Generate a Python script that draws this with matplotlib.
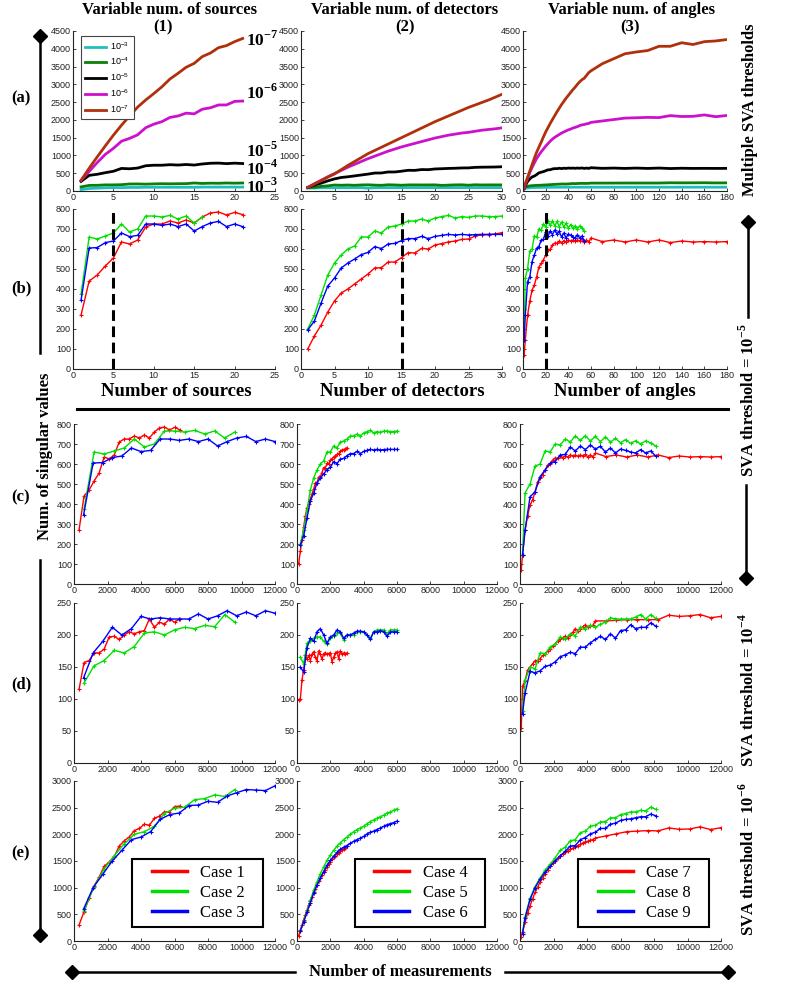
import numpy as np
import matplotlib
matplotlib.use('Agg')
import matplotlib.pyplot as plt
from matplotlib.lines import Line2D
from matplotlib.patches import Rectangle

plt.rcParams['font.family'] = 'Liberation Sans'
plt.rcParams['mathtext.fontset'] = 'custom'
plt.rcParams['mathtext.rm'] = 'Liberation Serif'
plt.rcParams['mathtext.bf'] = 'Liberation Serif:bold'
plt.rcParams['mathtext.sf'] = 'Liberation Sans'

# ---------------- data ----------------
# x values (number of sources / detectors / angles)
src1 = list(range(1, 22))
src2 = list(range(1, 17))
src3 = list(range(1, 22))
det = list(range(1, 31))
angles7 = [1, 2, 4, 6, 8, 10, 12, 14, 16, 18, 20, 22, 24, 26, 28, 30, 32, 34, 36, 38, 40,
           42, 44, 46, 48, 50, 52, 54, 56, 58, 60,
           70, 80, 90, 100, 110, 120, 130, 140, 150, 160, 170, 180]
angles89 = [1, 2, 4, 6, 8, 10, 12, 14, 16, 18, 20, 22, 24, 26, 28, 30, 32, 34, 36, 38, 40,
            42, 44, 46, 48, 50, 52, 54]

# measurements per source / detector / angle for each case
meas_per = {1: 300, 2: 600, 3: 12000 / 21, 4: 100, 5: 200, 6: 200, 8: 150, 9: 150}
meas7 = [75, 150, 300, 450, 600, 750, 900, 1050, 1200, 1350, 1500, 1650, 1800, 1950, 2100,
         2250, 2400, 2550, 2700, 2850, 3000, 3150, 3300, 3450, 3600, 3750, 3900, 4050, 4200,
         4350, 4500, 5125, 5750, 6375, 7000, 7625, 8250, 8875, 9500, 10125, 10750, 11375, 12000]

# row (a) extra thresholds (case 1 / 4 / 7)
a1_e7 = [300, 640, 960, 1270, 1570, 1850, 2110, 2360, 2560, 2740, 2930, 3150, 3310, 3480,
         3590, 3780, 3880, 4030, 4090, 4200, 4290]
a1_e3 = [40, 70, 80, 90, 95, 95, 100, 100, 105, 105, 105, 105, 105, 105, 105, 110, 110, 110,
         110, 110, 110]
a2_e7 = [100, 200, 290, 390, 480, 600, 720, 830, 940, 1050, 1140, 1230, 1320, 1410, 1500,
         1590, 1680, 1770, 1860, 1950, 2030, 2110, 2190, 2270, 2350, 2420, 2490, 2560, 2640, 2720]
a2_e3 = [80, 85, 88, 90, 90, 92, 92, 93, 93, 80, 92, 93, 93, 93, 94, 94, 94, 94, 95, 95, 95,
         95, 95, 95, 95, 95, 95, 95, 95, 95]
a3_e7 = [120, 200, 380, 560, 740, 920, 1090, 1230, 1370, 1520, 1660, 1780, 1900, 2010, 2120,
         2230, 2330, 2430, 2520, 2610, 2690, 2770, 2850, 2920, 3000, 3070, 3130, 3170, 3250,
         3330, 3380, 3580, 3720, 3860, 3910, 3950, 4070, 4070, 4170, 4120, 4200, 4220, 4260]
a3_e3 = [60, 75, 85, 90, 95, 98, 100, 100, 102, 103, 103, 104, 104, 105, 105, 105, 105, 105,
         106, 106, 106, 106, 106, 106, 106, 106, 107, 107, 107, 107, 107, 107, 107, 107, 107,
         107, 107, 107, 107, 107, 107, 107, 107]

# SVA threshold 1e-5 (rows b and c)
t5_c1 = [270, 440, 470, 515, 555, 635, 625, 645, 710, 725, 725, 740, 730, 745, 730, 760, 780,
         785, 770, 783, 772]
t5_c2 = [375, 660, 650, 665, 680, 725, 685, 700, 765, 765, 760, 768, 750, 765, 730, 760]
t5_c3 = [345, 605, 607, 632, 640, 680, 662, 668, 725, 725, 718, 725, 712, 725, 690, 712, 730,
         738, 712, 725, 712]
t5_c4 = [100, 165, 220, 285, 340, 380, 400, 425, 450, 475, 505, 507, 535, 535, 557, 582, 580,
         603, 600, 620, 627, 635, 640, 648, 650, 665, 670, 672, 675, 682]
t5_c5 = [200, 270, 370, 470, 530, 570, 600, 615, 660, 660, 690, 680, 710, 715, 725, 740, 740,
         750, 740, 755, 762, 768, 755, 762, 758, 765, 765, 762, 762, 765]
t5_c6 = [195, 240, 330, 415, 455, 505, 530, 550, 572, 583, 612, 602, 625, 628, 642, 652, 652,
         663, 652, 663, 668, 673, 670, 673, 670, 672, 673, 673, 673, 673]
t5_c7 = [72, 143, 268, 340, 395, 420, 460, 510, 528, 545, 570, 595, 598, 620, 630, 628, 640,
         630, 642, 635, 645, 640, 645, 638, 645, 640, 648, 635, 645, 635, 655,
         637, 645, 635, 645, 635, 645, 632, 640, 635, 637, 635, 637]
t5_c8 = [145, 455, 500, 590, 600, 665, 660, 700, 695, 725, 710, 740, 718, 742, 715, 738, 712,
         735, 710, 728, 706, 722, 703, 716, 700, 716, 705, 690]
t5_c9 = [143, 268, 436, 461, 537, 570, 604, 612, 645, 648, 685, 665, 690, 672, 695, 675, 688,
         660, 680, 655, 675, 668, 660, 655, 672, 655, 665, 640]

# SVA threshold 1e-4 (row d)
t4_c1 = [115, 157, 160, 172, 172, 178, 197, 198, 193, 200, 205, 202, 205, 207, 225, 212, 220,
         217, 225, 220, 225]
t4_c2 = [125, 152, 160, 176, 172, 182, 203, 205, 200, 208, 212, 210, 215, 213, 232, 220]
t4_c3 = [133, 172, 190, 212, 200, 210, 229, 225, 227, 225, 225, 225, 233, 225, 230, 238, 230,
         236, 230, 238, 234]
t4_c4 = [99, 100, 130, 145, 168, 162, 168, 160, 170, 174, 165, 160, 175, 170, 162, 171, 172,
         170, 171, 172, 158, 165, 172, 174, 163, 175, 170, 172, 171, 172]
t4_c5 = [165, 155, 187, 190, 195, 197, 197, 190, 186, 195, 198, 203, 203, 192, 200, 200, 200,
         205, 205, 205, 200, 195, 205, 208, 208, 208, 202, 208, 208, 208]
t4_c6 = [150, 142, 180, 195, 190, 205, 210, 200, 187, 197, 200, 208, 205, 195, 200, 200, 203,
         206, 206, 205, 200, 193, 205, 205, 207, 205, 198, 205, 205, 205]
t4_c7 = [54, 120, 128, 145, 150, 155, 160, 160, 163, 168, 170, 175, 178, 183, 186, 190, 193,
         196, 198, 195, 200, 204, 210, 207, 210, 213, 216, 212, 214, 215, 222,
         222, 223, 224, 224, 224, 224, 231, 229, 230, 232, 227, 229]
t4_c8 = [81, 129, 150, 147, 172, 171, 181, 186, 197, 194, 202, 199, 212, 210, 215, 212, 217,
         220, 227, 225, 225, 225, 225, 228, 232, 225, 232, 226]
t4_c9 = [77, 109, 143, 141, 144, 151, 153, 158, 166, 169, 173, 171, 181, 181, 188, 193, 198,
         193, 202, 195, 207, 208, 216, 210, 212, 212, 219, 214]

# SVA threshold 1e-6 (row e)
t6_c1 = [300, 550, 800, 1030, 1200, 1400, 1480, 1580, 1780, 1880, 1950, 2070, 2110, 2190,
         2170, 2300, 2340, 2420, 2420, 2520, 2530]
t6_c2 = [570, 1020, 1350, 1600, 1820, 2000, 2050, 2150, 2390, 2490, 2510, 2650, 2670, 2740,
         2710, 2840]
t6_c3 = [600, 1000, 1250, 1500, 1700, 1900, 1950, 2050, 2280, 2370, 2400, 2540, 2550, 2620,
         2600, 2720, 2780, 2840, 2830, 2820, 2910]
t6_c4 = [100, 200, 300, 400, 490, 580, 670, 750, 830, 910, 980, 1050, 1120, 1180, 1240, 1290,
         1340, 1390, 1440, 1490, 1530, 1570, 1600, 1630, 1650, 1680, 1710, 1730, 1750, 1775]
t6_c5 = [190, 370, 560, 760, 950, 1110, 1260, 1390, 1510, 1610, 1700, 1780, 1840, 1900, 1950,
         2000, 2050, 2090, 2120, 2150, 2200, 2240, 2270, 2300, 2330, 2360, 2400, 2420, 2450, 2480]
t6_c6 = [190, 360, 540, 720, 900, 1050, 1180, 1300, 1420, 1510, 1590, 1660, 1720, 1760, 1790,
         1830, 1870, 1900, 1930, 1960, 2010, 2040, 2060, 2090, 2120, 2150, 2180, 2200, 2220, 2250]
t6_c7 = [80, 170, 350, 520, 660, 790, 910, 1010, 1100, 1180, 1260, 1330, 1400, 1460, 1510,
         1550, 1590, 1630, 1660, 1690, 1720, 1740, 1770, 1790, 1810, 1840, 1860, 1870, 1890,
         1900, 1930, 1970, 2010, 2050, 2060, 2070, 2065, 2120, 2095, 2100, 2140, 2090, 2125]
t6_c8 = [130, 450, 800, 1020, 1180, 1330, 1440, 1560, 1700, 1760, 1880, 1900, 2030, 2060,
         2150, 2170, 2230, 2240, 2310, 2310, 2370, 2390, 2420, 2420, 2450, 2440, 2510, 2470]
t6_c9 = [130, 430, 780, 1000, 1160, 1290, 1400, 1500, 1600, 1680, 1780, 1790, 1900, 1940,
         2010, 2040, 2110, 2110, 2190, 2210, 2260, 2280, 2290, 2310, 2330, 2330, 2380, 2350]

thr_labels = [r'$\mathsf{10^{-3}}$', r'$\mathsf{10^{-4}}$', r'$\mathsf{10^{-5}}$',
              r'$\mathsf{10^{-6}}$', r'$\mathsf{10^{-7}}$']
thr_colors = ['#1fbfbf', '#0a800a', '#000000', '#cc11cc', '#b0300c']
case_colors = ['#ff0000', '#00e000', '#0000ff']

# ---------------- layout ----------------
W, H = 789, 996
fig = plt.figure(figsize=(W / 100, H / 100), dpi=100)
SERIF = 'Liberation Serif'


def add_ax(l, t, r, b):
    return fig.add_axes([l / W, 1 - b / H, (r - l) / W, (b - t) / H])


def style(ax, xlim, xticks, ylim, yticks):
    ax.set_xlim(xlim)
    ax.set_ylim(ylim)
    ax.set_xticks(xticks)
    ax.set_yticks(yticks)
    for s in ('top', 'right'):
        ax.spines[s].set_visible(False)
    for s in ('left', 'bottom'):
        ax.spines[s].set_linewidth(0.8)
        ax.spines[s].set_color('#222222')
    ax.tick_params(direction='in', length=2.5, width=0.6, labelsize=6.5, pad=1.5,
                   colors='#222222')


def ftext(x, y, s, size=12, **kw):
    fig.text(x / W, 1 - y / H, s, fontsize=size, family=SERIF, fontweight='bold',
             ha='center', va='center', **kw)


def fline(xs, ys, lw=1.8):
    fig.add_artist(Line2D([x / W for x in xs], [1 - y / H for y in ys],
                          transform=fig.transFigure, color='black', lw=lw))


def fdiamond(x, y):
    fig.add_artist(Line2D([x / W], [1 - y / H], transform=fig.transFigure, color='black',
                          marker='D', ms=7.5, lw=0))


rows = {'a': (31, 191), 'b': (209, 369), 'c': (424, 584), 'd': (603, 763), 'e': (781, 941)}
cols_ab = [(73, 275), (301, 502), (523, 727)]
cols_ce = [(74, 275), (297, 497), (520, 721)]

# row (a): multiple thresholds
a_x = [src1, det, angles7]
a_series = [[a1_e3, t4_c1, t5_c1, t6_c1, a1_e7],
            [a2_e3, t4_c4, t5_c4, t6_c4, a2_e7],
            [a3_e3, t4_c7, t5_c7, t6_c7, a3_e7]]
xlims = [(0, 25), (0, 30), (0, 180)]
xticks = [range(0, 26, 5), range(0, 31, 5), range(0, 181, 20)]
for j in range(3):
    ax = add_ax(cols_ab[j][0], rows['a'][0], cols_ab[j][1], rows['a'][1])
    style(ax, xlims[j], xticks[j], (0, 4500), range(0, 4501, 500))
    for k in range(5):
        ax.plot(a_x[j], a_series[j][k], color=thr_colors[k], lw=2, label=thr_labels[k])
    if j == 0:
        leg = ax.legend(loc='upper left', bbox_to_anchor=(0.015, 1.0), fontsize=6.5,
                        handlelength=2.3, handletextpad=0.5, labelspacing=0.45,
                        borderpad=0.5, fancybox=False, framealpha=1)
        leg.get_frame().set_edgecolor('#444444')
        leg.get_frame().set_linewidth(0.8)
        ann = [(4250, -7), (2750, -6), (1125, -5), (620, -4), (115, -3)]
        for yv, e in ann:
            ax.text(21.4, yv, r'10$^{\mathbf{%d}}$' % e, fontsize=12.5, family=SERIF,
                    fontweight='bold', va='center', ha='left')

# row (b): threshold 1e-5 vs number of sources/detectors/angles
b_data = [[(src1, t5_c1), (src2, t5_c2), (src3, t5_c3)],
          [(det, t5_c4), (det, t5_c5), (det, t5_c6)],
          [(angles7, t5_c7), (angles89, t5_c8), (angles89, t5_c9)]]
vlines = [5, 15, 20]
for j in range(3):
    ax = add_ax(cols_ab[j][0], rows['b'][0], cols_ab[j][1], rows['b'][1])
    style(ax, xlims[j], xticks[j], (0, 800), range(0, 801, 100))
    for k in range(3):
        xs, ys = b_data[j][k]
        ax.plot(xs, ys, color=case_colors[k], lw=1, marker='+', ms=3.5, mew=0.8)
    ax.plot([vlines[j], vlines[j]], [0, 790], color='black', lw=2.2,
            linestyle=(0, (3.5, 1.8)))

# rows (c)-(e): versus number of measurements
m_x = [[[n * meas_per[1] for n in src1], [n * meas_per[2] for n in src2],
        [n * meas_per[3] for n in src3]],
       [[n * meas_per[4] for n in det], [n * meas_per[5] for n in det],
        [n * meas_per[6] for n in det]],
       [meas7, [n * meas_per[8] for n in angles89], [n * meas_per[9] for n in angles89]]]
row_vals = {'c': [[t5_c1, t5_c2, t5_c3], [t5_c4, t5_c5, t5_c6], [t5_c7, t5_c8, t5_c9]],
            'd': [[t4_c1, t4_c2, t4_c3], [t4_c4, t4_c5, t4_c6], [t4_c7, t4_c8, t4_c9]],
            'e': [[t6_c1, t6_c2, t6_c3], [t6_c4, t6_c5, t6_c6], [t6_c7, t6_c8, t6_c9]]}
row_y = {'c': ((0, 800), range(0, 801, 100)),
         'd': ((0, 250), range(0, 251, 50)),
         'e': ((0, 3000), range(0, 3001, 500))}
for r in 'cde':
    for j in range(3):
        ax = add_ax(cols_ce[j][0], rows[r][0], cols_ce[j][1], rows[r][1])
        style(ax, (0, 12000), range(0, 12001, 2000), row_y[r][0], row_y[r][1])
        for k in range(3):
            ax.plot(m_x[j][k], row_vals[r][j][k], color=case_colors[k], lw=1,
                    marker='+', ms=3.5, mew=0.8, label='Case %d' % (3 * j + k + 1))
        if r == 'e':
            ax.add_patch(Rectangle((0.29, 0.0875), 0.652, 0.425, transform=ax.transAxes,
                                   facecolor='white', edgecolor='black', lw=1.5,
                                   zorder=5))
            handles = [Line2D([], [], color=c, lw=2.5) for c in case_colors]
            leg = ax.legend(handles, ['Case %d' % (3 * j + k + 1) for k in range(3)],
                            loc='center', bbox_to_anchor=(0.62, 0.30), frameon=False,
                            prop={'family': SERIF, 'size': 12}, handlelength=2.1,
                            handletextpad=0.8, labelspacing=0.25, borderpad=0.2)
            leg.set_zorder(6)

# ---------------- text and decorations ----------------
ftext(170, 10, 'Variable num. of sources')
ftext(163, 27, '(1)')
ftext(405, 10, 'Variable num. of detectors')
ftext(405, 27, '(2)')
ftext(631, 10, 'Variable num. of angles')
ftext(630, 27, '(3)')

ftext(176, 391, 'Number of sources', size=13.5)
ftext(402, 391, 'Number of detectors', size=13.5)
ftext(625, 391, 'Number of angles', size=13.5)
ftext(400, 972, 'Number of measurements', size=12)

for lab, yy in [('(a)', 98), ('(b)', 288), ('(c)', 497), ('(d)', 684), ('(e)', 853)]:
    ftext(21, yy, lab, size=12)

ftext(45, 456, 'Num. of singular values', size=12, rotation=90)
ftext(750, 110, 'Multiple SVA thresholds', size=12, rotation=90)
ftext(748, 400, r'SVA threshold = 10$^{\mathbf{-5}}$', size=12, rotation=90)
ftext(748, 690, r'SVA threshold = 10$^{\mathbf{-4}}$', size=12, rotation=90)
ftext(748, 859, r'SVA threshold = 10$^{\mathbf{-6}}$', size=12, rotation=90)

# left brackets
fline([40, 40], [36, 353])
fdiamond(40, 36)
fline([40, 40], [560, 935])
fdiamond(40, 935)
# middle horizontal rule
fline([77, 728], [409, 409], lw=2.2)
# right bracket
fline([748, 748], [222, 317])
fdiamond(748, 222)
fline([746, 746], [485, 578])
fdiamond(746, 578)
# bottom arrows
fline([72, 295], [972, 972])
fline([505, 728], [972, 972])
fdiamond(72, 972)
fdiamond(728, 972)

fig.savefig('out.png', dpi=100)
